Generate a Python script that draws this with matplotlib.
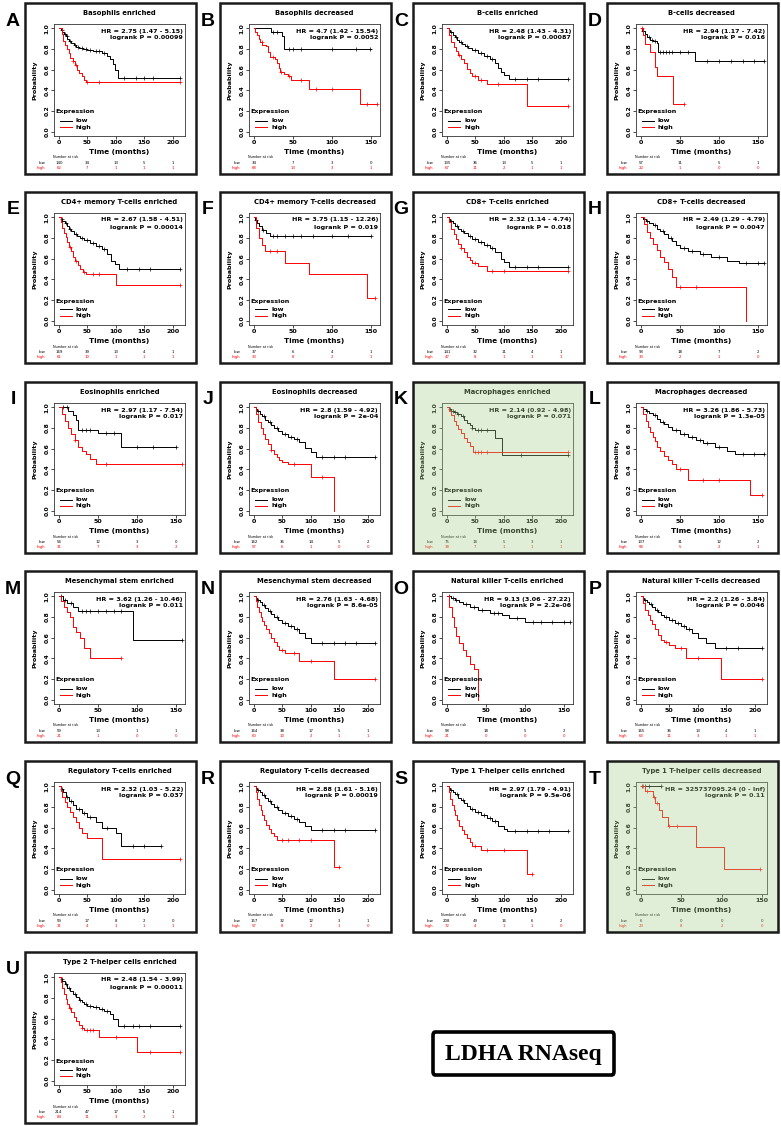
import matplotlib
matplotlib.use('Agg')
import matplotlib.pyplot as plt
from matplotlib.patches import Rectangle, FancyBboxPatch
from matplotlib.lines import Line2D
import matplotlib.transforms as mtransforms
import numpy as np

# ---------------- data ----------------
letters = list("ABCDEFGHIJKLMNOPQRSTU")
titles = ["Basophils enriched", "Basophils decreased", "B-cells enriched", "B-cells decreased",
          "CD4+ memory T-cells enriched", "CD4+ memory T-cells decreased", "CD8+ T-cells enriched", "CD8+ T-cells decreased",
          "Eosinophils enriched", "Eosinophils decreased", "Macrophages enriched", "Macrophages decreased",
          "Mesenchymal stem enriched", "Mesenchymal stem decreased", "Natural killer T-cells enriched", "Natural killer T-cells decreased",
          "Regulatory T-cells enriched", "Regulatory T-cells decreased", "Type 1 T-helper cells enriched", "Type 1 T-helper cells decreased",
          "Type 2 T-helper cells enriched"]
hr_texts = ["HR = 2.75 (1.47 - 5.15)", "HR = 4.7 (1.42 - 15.54)", "HR = 2.48 (1.43 - 4.31)", "HR = 2.94 (1.17 - 7.42)",
            "HR = 2.67 (1.58 - 4.51)", "HR = 3.75 (1.15 - 12.26)", "HR = 2.32 (1.14 - 4.74)", "HR = 2.49 (1.29 - 4.79)",
            "HR = 2.97 (1.17 - 7.54)", "HR = 2.8 (1.59 - 4.92)", "HR = 2.14 (0.92 - 4.98)", "HR = 3.26 (1.86 - 5.73)",
            "HR = 3.62 (1.26 - 10.46)", "HR = 2.76 (1.63 - 4.68)", "HR = 9.13 (3.06 - 27.22)", "HR = 2.2 (1.26 - 3.84)",
            "HR = 2.32 (1.03 - 5.22)", "HR = 2.88 (1.61 - 5.16)", "HR = 2.97 (1.79 - 4.91)", "HR = 325737095.24 (0 - Inf)",
            "HR = 2.48 (1.54 - 3.99)"]
p_texts = ["0.00099", "0.0052", "0.00087", "0.016", "0.00014", "0.019", "0.018", "0.0047",
           "0.017", "2e-04", "0.071", "1.3e-05", "0.011", "8.6e-05", "2.2e-06", "0.0046",
           "0.037", "0.00019", "9.5e-06", "0.11", "0.00011"]
time_max = [213, 155, 213, 155, 213, 155, 213, 155, 155, 213, 213, 155,
            155, 213, 155, 213, 213, 213, 213, 150, 213]
highlighted = ["K", "T"]

# survival curves: step times, survival, censor times, numbers at risk
A_low_t = [0, 3, 6, 9, 12, 15, 18, 22, 26, 30, 35, 42, 50, 60, 75, 85, 90, 95, 98, 103, 213]
A_low_s = [1, .98, .96, .94, .92, .90, .88, .86, .84, .82, .81, .80, .79, .78, .76, .73, .70, .65, .60, .52, .52]
A_low_c = [5, 10, 14, 20, 28, 33, 40, 48, 55, 65, 70, 80, 115, 135, 150, 165, 213]
A_high_t = [0, 5, 8, 11, 14, 17, 20, 24, 28, 32, 36, 40, 44, 47, 213]
A_high_s = [1, .94, .88, .84, .80, .76, .71, .68, .64, .60, .57, .54, .50, .48, .48]
A_high_c = [25, 30, 50, 70, 213]
A_risk_low = [140, 34, 13, 5, 1]
A_risk_high = [62, 7, 1, 1, 1]

B_low_t = [0, 22, 36, 38, 150]
B_low_s = [1, .96, .92, .80, .80]
B_low_c = [25, 30, 45, 50, 60, 100, 130, 148]
B_high_t = [0, 2, 4, 6, 8, 11, 15, 18, 20, 27, 30, 32, 34, 38, 44, 48, 70, 136, 157]
B_high_s = [1, .96, .93, .90, .87, .84, .83, .77, .72, .70, .66, .62, .58, .56, .54, .50, .41, .27, .27]
B_high_c = [10, 25, 35, 45, 60, 80, 100, 145, 157]
B_risk_low = [34, 7, 3, 0]
B_risk_high = [68, 13, 3, 1]

C_low_t = [0, 3, 6, 10, 14, 18, 22, 27, 32, 38, 45, 55, 65, 75, 85, 90, 95, 100, 110, 213]
C_low_s = [1, .98, .96, .93, .91, .89, .87, .85, .83, .81, .79, .76, .73, .70, .66, .62, .58, .55, .51, .51]
C_low_c = [8, 16, 25, 35, 50, 60, 70, 80, 120, 140, 160, 213]
C_high_t = [0, 4, 8, 12, 16, 20, 25, 30, 35, 40, 45, 55, 70, 140, 213]
C_high_s = [1, .93, .87, .82, .78, .74, .70, .66, .61, .57, .54, .50, .46, .25, .25]
C_high_c = [22, 50, 60, 90, 213]
C_risk_low = [135, 36, 13, 5, 1]
C_risk_high = [67, 11, 2, 1, 1]

D_low_t = [0, 2, 5, 8, 12, 16, 20, 22, 69, 157]
D_low_s = [1, .97, .94, .91, .89, .88, .86, .77, .68, .68]
D_low_c = [3, 10, 14, 18, 25, 28, 32, 36, 40, 50, 60, 85, 100, 115, 130, 145, 157]
D_high_t = [0, 3, 5, 12, 18, 20, 41, 55]
D_high_s = [1, .93, .85, .77, .63, .54, .27, .27]
D_high_c = [2, 55]
D_risk_low = [57, 11, 5, 1]
D_risk_high = [22, 1, 0, 0]

E_low_t = [0, 3, 6, 10, 14, 18, 22, 27, 32, 38, 45, 55, 65, 75, 85, 92, 98, 105, 213]
E_low_s = [1, .98, .96, .94, .91, .89, .87, .84, .82, .80, .78, .75, .72, .69, .64, .58, .55, .50, .50]
E_low_c = [5, 12, 20, 30, 40, 50, 60, 70, 80, 120, 140, 160, 213]
E_high_t = [0, 3, 6, 9, 12, 15, 18, 21, 25, 29, 33, 38, 43, 48, 100, 213]
E_high_s = [1, .95, .90, .85, .81, .76, .71, .67, .62, .58, .54, .50, .47, .45, .35, .35]
E_high_c = [20, 30, 45, 60, 70, 213]
E_risk_low = [169, 39, 13, 4, 1]
E_risk_high = [61, 10, 1, 1, 1]

F_low_t = [0, 2, 4, 7, 10, 15, 20, 150]
F_low_s = [1, .97, .94, .91, .88, .85, .82, .82]
F_low_c = [3, 12, 25, 30, 40, 50, 60, 75, 100, 120, 150]
F_high_t = [0, 3, 6, 10, 14, 40, 70, 145, 155]
F_high_s = [1, .90, .80, .73, .67, .56, .45, .22, .22]
F_high_c = [20, 30, 155]
F_risk_low = [37, 6, 4, 1]
F_risk_high = [33, 8, 2, 1]

G_low_t = [0, 3, 6, 10, 15, 20, 25, 30, 37, 45, 55, 65, 75, 85, 95, 100, 110, 213]
G_low_s = [1, .98, .96, .94, .91, .89, .87, .85, .82, .79, .76, .73, .70, .66, .60, .57, .52, .52]
G_low_c = [8, 18, 28, 40, 50, 60, 70, 80, 120, 140, 160, 213]
G_high_t = [0, 4, 8, 12, 16, 20, 25, 30, 35, 40, 45, 55, 70, 213]
G_high_s = [1, .95, .89, .84, .79, .74, .70, .66, .62, .59, .56, .53, .48, .48]
G_high_c = [25, 50, 80, 100, 213]
G_risk_low = [141, 32, 11, 4, 1]
G_risk_high = [47, 8, 1, 1, 1]

H_low_t = [0, 3, 6, 10, 15, 20, 25, 30, 35, 40, 45, 50, 60, 75, 90, 110, 125, 157]
H_low_s = [1, .98, .96, .94, .92, .89, .87, .84, .80, .77, .73, .70, .67, .64, .62, .58, .56, .56]
H_low_c = [8, 18, 28, 38, 55, 65, 80, 100, 135, 150, 157]
H_high_t = [0, 4, 8, 12, 16, 20, 25, 30, 35, 40, 45, 135]
H_high_s = [1, .93, .86, .80, .74, .68, .62, .57, .50, .42, .33, 0]
H_high_c = [50, 70]
H_risk_low = [93, 18, 7, 2]
H_risk_high = [33, 2, 1, 0]

I_low_t = [0, 12, 18, 22, 25, 50, 80, 150]
I_low_s = [1, .96, .92, .88, .78, .75, .62, .62]
I_low_c = [5, 10, 30, 35, 40, 60, 70, 100, 120, 150]
I_high_t = [0, 4, 8, 12, 16, 20, 25, 30, 35, 40, 48, 157]
I_high_s = [1, .93, .87, .80, .74, .68, .62, .58, .55, .50, .45, .45]
I_high_c = [20, 60, 157]
I_risk_low = [54, 12, 3, 0]
I_risk_high = [31, 7, 3, 2]

J_low_t = [0, 3, 6, 10, 15, 20, 25, 30, 35, 42, 50, 60, 70, 80, 90, 100, 110, 213]
J_low_s = [1, .98, .96, .93, .91, .88, .86, .83, .80, .77, .74, .71, .69, .66, .61, .57, .52, .52]
J_low_c = [8, 18, 28, 40, 55, 65, 75, 120, 140, 160, 213]
J_high_t = [0, 4, 8, 12, 16, 20, 25, 30, 35, 40, 45, 50, 60, 100, 140]
J_high_s = [1, .93, .86, .80, .74, .69, .64, .59, .55, .52, .49, .47, .45, .33, 0]
J_high_c = [30, 70, 120]
J_risk_low = [162, 36, 14, 5, 2]
J_risk_high = [57, 6, 1, 0, 0]

K_low_t = [0, 3, 8, 12, 18, 24, 30, 35, 40, 45, 50, 85, 97, 213]
K_low_s = [1, .98, .96, .95, .93, .91, .88, .85, .83, .80, .78, .70, .54, .54]
K_low_c = [5, 10, 15, 20, 28, 45, 55, 60, 70, 130, 213]
K_high_t = [0, 4, 8, 12, 16, 20, 25, 30, 35, 40, 46, 213]
K_high_s = [1, .96, .92, .87, .83, .79, .75, .70, .66, .63, .57, .57]
K_high_c = [50, 55, 60, 70, 213]
K_risk_low = [75, 18, 5, 3, 1]
K_risk_high = [38, 7, 1, 1, 1]

L_low_t = [0, 3, 6, 10, 15, 20, 25, 30, 35, 40, 50, 60, 70, 80, 95, 110, 120, 157]
L_low_s = [1, .98, .96, .94, .92, .89, .86, .84, .81, .78, .74, .71, .68, .65, .62, .58, .55, .55]
L_low_c = [8, 18, 28, 45, 55, 65, 75, 85, 100, 130, 145, 157]
L_high_t = [0, 3, 6, 9, 12, 15, 18, 21, 25, 30, 35, 40, 45, 60, 140, 155]
L_high_s = [1, .93, .87, .81, .76, .71, .67, .62, .58, .53, .49, .45, .40, .30, .15, .15]
L_high_c = [50, 80, 100, 155]
L_risk_low = [137, 31, 12, 2]
L_risk_high = [58, 5, 2, 1]

M_low_t = [0, 5, 10, 18, 25, 95, 157]
M_low_s = [1, .96, .93, .90, .86, .58, .58]
M_low_c = [3, 8, 15, 30, 35, 40, 50, 60, 70, 80, 157]
M_high_t = [0, 3, 6, 10, 14, 18, 22, 27, 32, 40, 80]
M_high_s = [1, .95, .90, .85, .80, .70, .65, .60, .50, .40, .40]
M_high_c = [80]
M_risk_low = [59, 13, 1, 1]
M_risk_high = [21, 1, 0, 0]

N_low_t = [0, 3, 6, 10, 15, 20, 25, 30, 35, 42, 50, 60, 70, 80, 90, 100, 213]
N_low_s = [1, .98, .96, .94, .91, .89, .86, .83, .80, .77, .74, .71, .68, .64, .60, .55, .55]
N_low_c = [8, 18, 28, 40, 55, 65, 75, 120, 140, 160, 180, 213]
N_high_t = [0, 3, 6, 9, 12, 15, 18, 22, 26, 30, 35, 40, 45, 55, 80, 140, 213]
N_high_s = [1, .95, .90, .85, .80, .76, .72, .68, .64, .60, .56, .52, .48, .45, .37, .20, .20]
N_high_c = [50, 70, 100, 213]
N_risk_low = [164, 38, 17, 5, 1]
N_risk_high = [60, 10, 2, 1, 1]

O_low_t = [0, 5, 10, 15, 20, 30, 40, 55, 70, 80, 100, 157]
O_low_s = [1, .98, .96, .94, .92, .90, .87, .84, .82, .79, .75, .75]
O_low_c = [3, 8, 12, 25, 35, 45, 60, 65, 90, 110, 120, 135, 150, 157]
O_high_t = [0, 3, 6, 9, 12, 15, 20, 25, 30, 35, 40]
O_high_s = [1, .90, .80, .70, .62, .55, .48, .42, .35, .30, 0]
O_high_c = []
O_risk_low = [58, 18, 5, 2]
O_risk_high = [21, 0, 0, 0]

P_low_t = [0, 3, 6, 10, 15, 20, 25, 30, 35, 40, 50, 60, 70, 80, 90, 100, 115, 130, 213]
P_low_s = [1, .98, .96, .94, .92, .90, .87, .85, .82, .80, .77, .74, .71, .68, .64, .60, .55, .50, .50]
P_low_c = [8, 18, 28, 45, 55, 65, 75, 85, 150, 170, 213]
P_high_t = [0, 4, 8, 12, 16, 20, 25, 30, 35, 40, 50, 60, 80, 140, 213]
P_high_s = [1, .93, .87, .82, .77, .73, .68, .63, .58, .56, .53, .50, .40, .20, .20]
P_high_c = [45, 70, 100, 213]
P_risk_low = [165, 36, 13, 4, 1]
P_risk_high = [63, 11, 3, 1, 1]

Q_low_t = [0, 4, 8, 12, 18, 25, 30, 40, 50, 65, 75, 100, 110, 180]
Q_low_s = [1, .97, .94, .90, .86, .82, .78, .74, .70, .65, .60, .55, .42, .42]
Q_low_c = [5, 15, 22, 35, 45, 55, 85, 130, 150, 180]
Q_high_t = [0, 3, 6, 10, 15, 20, 25, 30, 35, 40, 50, 75, 213]
Q_high_s = [1, .95, .90, .85, .80, .75, .70, .65, .60, .55, .50, .30, .30]
Q_high_c = [213]
Q_risk_low = [59, 17, 8, 2, 0]
Q_risk_high = [31, 4, 1, 1, 1]

R_low_t = [0, 3, 6, 10, 15, 20, 25, 30, 35, 42, 50, 60, 70, 80, 90, 100, 213]
R_low_s = [1, .98, .96, .94, .91, .89, .86, .83, .80, .77, .74, .71, .68, .65, .62, .58, .58]
R_low_c = [8, 18, 28, 40, 55, 65, 75, 120, 140, 160, 213]
R_high_t = [0, 3, 6, 9, 12, 15, 18, 22, 26, 30, 35, 40, 140, 150]
R_high_s = [1, .94, .88, .82, .77, .72, .67, .63, .59, .55, .52, .48, .22, .22]
R_high_c = [50, 60, 80, 100, 150]
R_risk_low = [157, 32, 12, 3, 1]
R_risk_high = [57, 8, 2, 1, 0]

S_low_t = [0, 3, 6, 10, 15, 20, 25, 30, 35, 40, 50, 60, 70, 80, 90, 100, 105, 213]
S_low_s = [1, .98, .96, .94, .92, .89, .87, .84, .81, .78, .75, .72, .69, .66, .62, .59, .57, .57]
S_low_c = [8, 18, 28, 45, 55, 65, 75, 85, 120, 140, 160, 180, 213]
S_high_t = [0, 3, 6, 9, 12, 15, 18, 22, 26, 30, 35, 40, 45, 60, 140, 150]
S_high_s = [1, .94, .88, .82, .77, .72, .67, .62, .58, .54, .50, .46, .42, .38, .15, .15]
S_high_c = [50, 70, 100, 150]
S_risk_low = [208, 49, 16, 6, 2]
S_risk_high = [72, 4, 1, 1, 0]

T_low_t = [0, 25]
T_low_s = [1, 1]
T_low_c = [2, 5, 10, 25]
T_high_t = [0, 5, 15, 17, 22, 26, 33, 68, 103, 147]
T_high_s = [1, .95, .90, .84, .77, .70, .62, .41, .20, .20]
T_high_c = [3, 8, 16, 20, 35, 45, 147]
T_risk_low = [6, 0, 0, 0]
T_risk_high = [23, 8, 2, 0]

U_low_t = [0, 3, 6, 10, 15, 20, 25, 30, 35, 40, 45, 50, 60, 70, 80, 90, 95, 103, 213]
U_low_s = [1, .98, .96, .93, .90, .87, .84, .81, .78, .76, .74, .72, .71, .69, .67, .64, .60, .53, .53]
U_low_c = [5, 12, 18, 28, 38, 48, 55, 65, 75, 85, 115, 130, 140, 160, 213]
U_high_t = [0, 3, 6, 9, 12, 15, 18, 22, 26, 30, 35, 40, 45, 70, 137, 213]
U_high_s = [1, .95, .90, .84, .79, .74, .70, .66, .62, .58, .54, .51, .49, .42, .28, .28]
U_high_c = [20, 40, 50, 55, 60, 100, 160, 213]
U_risk_low = [214, 47, 17, 5, 1]
U_risk_high = [84, 11, 3, 2, 1]

g = globals()
panels = []
for i, L in enumerate(letters):
    panels.append(dict(letter=L, title=titles[i], hr=hr_texts[i], p=p_texts[i], tmax=time_max[i],
                       low=(g[L + '_low_t'], g[L + '_low_s'], g[L + '_low_c']),
                       high=(g[L + '_high_t'], g[L + '_high_s'], g[L + '_high_c']),
                       risk_low=g[L + '_risk_low'], risk_high=g[L + '_risk_high']))

# ---------------- layout ----------------
W, H = 781, 1126
fig = plt.figure(figsize=(W / 100, H / 100), dpi=100)
fig.patch.set_facecolor('white')

def fx(x):
    return x / W

def fy(y):
    return 1 - y / H

col_left = [25, 220, 413, 607]
row_top = [3, 192, 382, 571, 761, 952]
BOX = 171
BOLD = dict(fontweight='bold', family='DejaVu Sans')
LOWC = 'black'
HIGHC = '#ff0000'

def txt(x, y, s, **kw):
    fig.text(fx(x), fy(y), s, **kw)

for i, pn in enumerate(panels):
    r, c = divmod(i, 4)
    bl, bt = col_left[c], row_top[r]
    # panel box
    fig.add_artist(Rectangle((fx(bl), fy(bt + BOX)), BOX / W, BOX / H, transform=fig.transFigure,
                             facecolor='white', edgecolor='none', zorder=-1))
    # letter
    txt(bl - 12, bt + 18, pn['letter'], ha='center', va='center', fontsize=14,
        fontweight='bold', family='Liberation Sans')
    # axes
    ax_l, ax_r, ax_t, ax_b = bl + 29, bl + 160, bt + 21, bt + 133
    ax = fig.add_axes([fx(ax_l), fy(ax_b), (ax_r - ax_l) / W, (ax_b - ax_t) / H])
    ax.set_facecolor('none')
    tm = pn['tmax']
    ax.set_xlim(-0.04 * tm, 1.04 * tm)
    ax.set_ylim(-0.04, 1.04)
    xt = [0, 50, 100, 150, 200] if tm > 180 else [0, 50, 100, 150]
    ax.set_xticks(xt)
    ax.set_yticks([0, 0.2, 0.4, 0.6, 0.8, 1.0])
    ax.set_xticklabels([str(v) for v in xt], fontsize=4.6, **BOLD)
    ax.set_yticklabels(['0.0', '0.2', '0.4', '0.6', '0.8', '1.0'], fontsize=4.4, rotation=90,
                       va='center', **BOLD)
    ax.tick_params(axis='both', length=2, width=0.5, pad=1.2)
    for sp in ax.spines.values():
        sp.set_linewidth(0.6)
        sp.set_color('#333333')
    for (t, s, cens), col in ((pn['low'], LOWC), (pn['high'], HIGHC)):
        ax.step(t, s, where='post', color=col, lw=0.7)
        if cens:
            ta = np.asarray(t)
            sa = np.asarray(s)
            idx = np.clip(np.searchsorted(ta, cens, side='right') - 1, 0, len(sa) - 1)
            ax.plot(cens, sa[idx], ls='none', marker='+', ms=2.6, mew=0.5, color=col)
    # texts
    cx = (ax_l + ax_r) / 2
    txt(cx, bt + 10, pn['title'], ha='center', va='center', fontsize=4.9, **BOLD)
    txt(bl + 10, (ax_t + ax_b) / 2, 'Probability', ha='center', va='center', rotation=90, fontsize=4.6, **BOLD)
    txt(ax_r - 2, bt + 28, pn['hr'], ha='right', va='center', fontsize=4.6, **BOLD)
    txt(ax_r - 2, bt + 35, 'logrank P = ' + pn['p'], ha='right', va='center', fontsize=4.6, **BOLD)
    txt(bl + 30, bt + 109, 'Expression', ha='left', va='center', fontsize=4.6, **BOLD)
    for yy, lab, col in ((bt + 117.5, 'low', LOWC), (bt + 124, 'high', HIGHC)):
        fig.add_artist(Line2D([fx(bl + 35), fx(bl + 47)], [fy(yy), fy(yy)], transform=fig.transFigure,
                              color=col, lw=0.7))
        txt(bl + 51, yy, lab, ha='left', va='center', fontsize=4.6, **BOLD)
    txt(cx, bt + 149, 'Time (months)', ha='center', va='center', fontsize=5.2, **BOLD)
    txt(bl + 28, bt + 154.5, 'Number at risk', ha='left', va='center', fontsize=2.4)
    txt(bl + 20, bt + 160, 'low', ha='right', va='center', fontsize=2.8, color=LOWC)
    txt(bl + 20, bt + 165, 'high', ha='right', va='center', fontsize=2.8, color=HIGHC)
    trans = mtransforms.blended_transform_factory(ax.transData, fig.transFigure)
    for xv, nl, nh in zip(xt, pn['risk_low'], pn['risk_high']):
        fig.text(xv, fy(bt + 160), str(nl), transform=trans, ha='center', va='center', fontsize=2.8, color=LOWC)
        fig.text(xv, fy(bt + 165), str(nh), transform=trans, ha='center', va='center', fontsize=2.8, color=HIGHC)
    # green highlight overlay
    if pn['letter'] in highlighted:
        fig.add_artist(Rectangle((fx(bl), fy(bt + BOX)), BOX / W, BOX / H, transform=fig.transFigure,
                                 facecolor='#a8d08d', edgecolor='none', alpha=0.35, zorder=5))
    # border
    fig.add_artist(Rectangle((fx(bl), fy(bt + BOX)), BOX / W, BOX / H, transform=fig.transFigure,
                             facecolor='none', edgecolor='#1a1a1a', lw=1.8, zorder=6))

# LDHA RNAseq label box
bx0, by0, bx1, by1 = 433, 1032, 614, 1075
fig.add_artist(FancyBboxPatch((fx(bx0), fy(by1)), (bx1 - bx0) / W, (by1 - by0) / H,
                              boxstyle='round,pad=0,rounding_size=0.003', transform=fig.transFigure,
                              facecolor='white', edgecolor='black', lw=2.6, zorder=6))
txt((bx0 + bx1) / 2, (by0 + by1) / 2 + 1, 'LDHA RNAseq', ha='center', va='center', fontsize=17,
    fontweight='bold', family='Liberation Serif', zorder=7)

fig.savefig('out.png', dpi=100, facecolor='white')
